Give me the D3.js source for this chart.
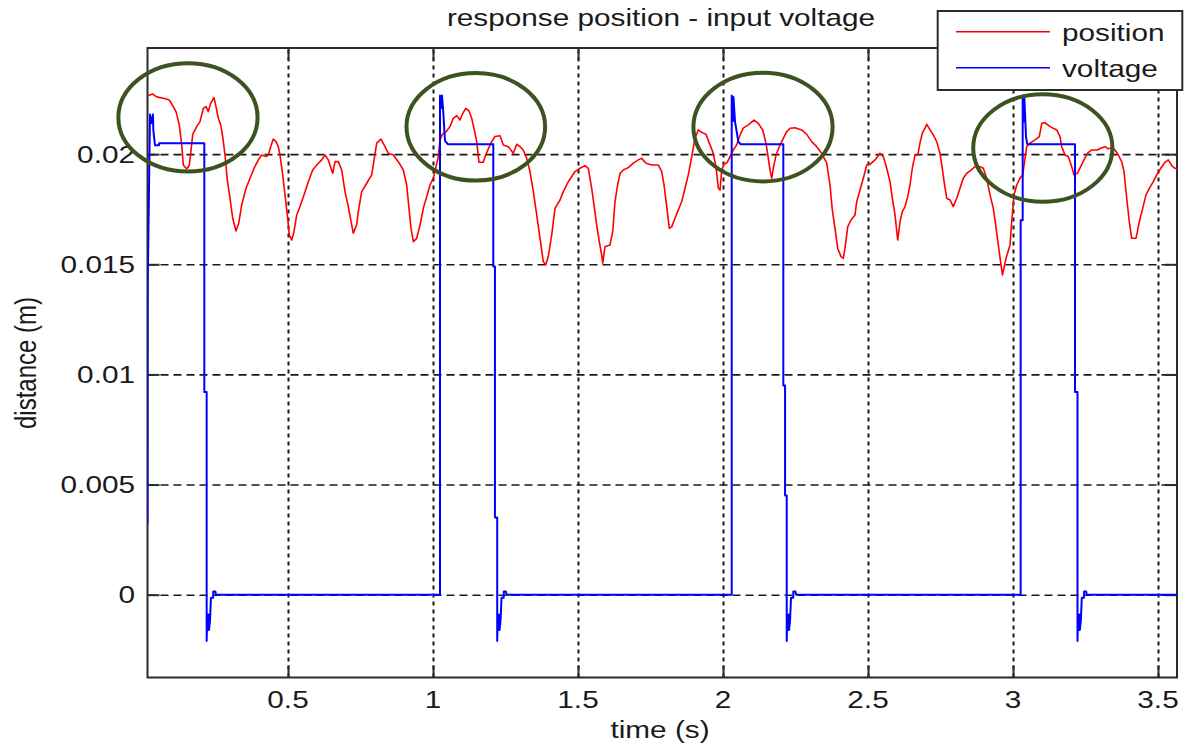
<!DOCTYPE html>
<html>
<head>
<meta charset="utf-8">
<script src="https://cdn.jsdelivr.net/npm/d3@7"></script>
<style>
  html, body { margin: 0; padding: 0; background: #ffffff; }
  svg { display: block; }
  text { font-family: "Liberation Sans", Arial, sans-serif; fill: #1a1a1a; }
</style>
</head>
<body>
<svg id="chart" width="1193" height="748"></svg>
<script>
// ---- data -------------------------------------------------------------
const titleText = "response position - input voltage";
const xLabel = "time (s)";
const yLabel = "distance (m)";

const xTickValues = [0.5, 1, 1.5, 2, 2.5, 3, 3.5];
const xTickLabels = ["0.5", "1", "1.5", "2", "2.5", "3", "3.5"];
const yTickValues = [0, 0.005, 0.01, 0.015, 0.02];
const yTickLabels = ["0", "0.005", "0.01", "0.015", "0.02"];

const xDomain = [0.0155, 3.5655];
const yDomain = [-0.00376, 0.02482];

const seriesNames = ["position", "voltage"];
const seriesColors = ["#ff0000", "#0000ff"];

// measured position (m) over time (s)
const positionTime = [
  0.0183, 0.0334, 0.0472, 0.0700, 0.0907, 0.1045, 0.1138, 0.1252, 0.1334, 0.1390,
  0.1507, 0.1597, 0.1645, 0.1714, 0.1852, 0.1966, 0.2079, 0.2172, 0.2252, 0.2334,
  0.2448, 0.2517, 0.2597, 0.2679, 0.2748, 0.2828, 0.2907, 0.3000, 0.3093, 0.3207,
  0.3300, 0.3403, 0.3552, 0.3690, 0.3828, 0.3976, 0.4093, 0.4241, 0.4321, 0.4403,
  0.4493, 0.4586, 0.4666, 0.4724, 0.4817, 0.4897, 0.4976, 0.5045, 0.5128, 0.5207,
  0.5300, 0.5414, 0.5552, 0.5700, 0.5852, 0.5990, 0.6162, 0.6276, 0.6390, 0.6541,
  0.6621, 0.6734, 0.6852, 0.6966, 0.7079, 0.7197, 0.7252, 0.7369, 0.7424, 0.7541,
  0.7714, 0.7886, 0.7976, 0.8059, 0.8207, 0.8345, 0.8459, 0.8631, 0.8803, 0.8976,
  0.9093, 0.9172, 0.9241, 0.9321, 0.9438, 0.9552, 0.9666, 0.9783, 0.9897, 1.0010,
  1.0093, 1.0183, 1.0241, 1.0321, 1.0472, 1.0586, 1.0700, 1.0817, 1.0931, 1.1010,
  1.1128, 1.1241, 1.1334, 1.1424, 1.1507, 1.1586, 1.1734, 1.1817, 1.1907, 1.2024,
  1.2138, 1.2310, 1.2424, 1.2597, 1.2769, 1.2886, 1.3000, 1.3114, 1.3231, 1.3345,
  1.3459, 1.3576, 1.3690, 1.3803, 1.3886, 1.3976, 1.4093, 1.4207, 1.4379, 1.4493,
  1.4666, 1.4897, 1.5069, 1.5241, 1.5355, 1.5472, 1.5552, 1.5645, 1.5734, 1.5817,
  1.5852, 1.5931, 1.6103, 1.6197, 1.6276, 1.6355, 1.6448, 1.6562, 1.6734, 1.6907,
  1.7079, 1.7197, 1.7345, 1.7541, 1.7769, 1.7886, 1.7966, 1.8059, 1.8148, 1.8231,
  1.8345, 1.8459, 1.8576, 1.8690, 1.8803, 1.8921, 1.9034, 1.9148, 1.9266, 1.9414,
  1.9528, 1.9645, 1.9724, 1.9783, 1.9838, 1.9897, 1.9955, 2.0034, 2.0148, 2.0241,
  2.0355, 2.0472, 2.0586, 2.0700, 2.0872, 2.1069, 2.1217, 2.1369, 2.1483, 2.1562,
  2.1621, 2.1679, 2.1734, 2.1828, 2.1941, 2.2079, 2.2197, 2.2310, 2.2483, 2.2714,
  2.2886, 2.3059, 2.3231, 2.3403, 2.3576, 2.3690, 2.3769, 2.3862, 2.3955, 2.4069,
  2.4148, 2.4207, 2.4300, 2.4414, 2.4552, 2.4610, 2.4724, 2.4838, 2.4955, 2.5069,
  2.5241, 2.5414, 2.5528, 2.5645, 2.5759, 2.5838, 2.5931, 2.6024, 2.6103, 2.6183,
  2.6276, 2.6369, 2.6448, 2.6528, 2.6621, 2.6714, 2.6793, 2.6872, 2.6966, 2.7024,
  2.7103, 2.7252, 2.7369, 2.7483, 2.7562, 2.7631, 2.7714, 2.7828, 2.7941, 2.8059,
  2.8172, 2.8286, 2.8403, 2.8552, 2.8690, 2.8862, 2.8976, 2.9093, 2.9207, 2.9321,
  2.9403, 2.9493, 2.9586, 2.9638, 2.9759, 2.9897, 2.9955, 3.0034, 3.0128, 3.0241,
  3.0334, 3.0414, 3.0472, 3.0586, 3.0759, 3.0907, 3.0990, 3.1103, 3.1276, 3.1507,
  3.1621, 3.1679, 3.1793, 3.1907, 3.2024, 3.2103, 3.2217, 3.2334, 3.2448, 3.2562,
  3.2714, 3.2907, 3.3024, 3.3172, 3.3286, 3.3403, 3.3517, 3.3631, 3.3748, 3.3828,
  3.3921, 3.4010, 3.4093, 3.4241, 3.4355, 3.4472, 3.4586, 3.4700, 3.4838, 3.4955,
  3.5093, 3.5241, 3.5355, 3.5472, 3.5586, 3.5759
];
const positionValue = [
  0.02266, 0.02273, 0.02260, 0.02254, 0.02246, 0.02216, 0.02193, 0.02133, 0.02042, 0.01951,
  0.01933, 0.01950, 0.02004, 0.02090, 0.02125, 0.02148, 0.02208, 0.02216, 0.02193, 0.02231,
  0.02257, 0.02216, 0.02163, 0.02133, 0.02080, 0.01996, 0.01883, 0.01800, 0.01709, 0.01651,
  0.01686, 0.01769, 0.01845, 0.01891, 0.01936, 0.01974, 0.01996, 0.01989, 0.01996, 0.02034,
  0.02069, 0.02057, 0.02034, 0.01996, 0.01906, 0.01815, 0.01724, 0.01633, 0.01610, 0.01648,
  0.01724, 0.01762, 0.01815, 0.01875, 0.01928, 0.01951, 0.01974, 0.01996, 0.01974, 0.01913,
  0.01966, 0.01966, 0.01928, 0.01830, 0.01762, 0.01678, 0.01641, 0.01680, 0.01739, 0.01830,
  0.01868, 0.01906, 0.01981, 0.02050, 0.02068, 0.02034, 0.02004, 0.01996, 0.01966, 0.01928,
  0.01860, 0.01754, 0.01663, 0.01603, 0.01618, 0.01678, 0.01754, 0.01807, 0.01860, 0.01891,
  0.01936, 0.01989, 0.02064, 0.02090, 0.02105, 0.02125, 0.02163, 0.02175, 0.02155, 0.02181,
  0.02208, 0.02196, 0.02163, 0.02110, 0.02057, 0.01963, 0.01963, 0.01996, 0.02024, 0.02057,
  0.02080, 0.02084, 0.02042, 0.02034, 0.02004, 0.02045, 0.02034, 0.02019, 0.01981, 0.01921,
  0.01830, 0.01724, 0.01618, 0.01512, 0.01497, 0.01535, 0.01633, 0.01754, 0.01792, 0.01830,
  0.01875, 0.01921, 0.01936, 0.01948, 0.01936, 0.01845, 0.01769, 0.01678, 0.01603, 0.01542,
  0.01505, 0.01580, 0.01588, 0.01648, 0.01784, 0.01852, 0.01913, 0.01928, 0.01939, 0.01959,
  0.01974, 0.01981, 0.01959, 0.01951, 0.01951, 0.01921, 0.01860, 0.01762, 0.01663, 0.01670,
  0.01709, 0.01747, 0.01784, 0.01845, 0.01906, 0.01989, 0.02072, 0.02110, 0.02099, 0.02090,
  0.02050, 0.02011, 0.01966, 0.01913, 0.01845, 0.01837, 0.01928, 0.01954, 0.01963, 0.01989,
  0.02019, 0.02042, 0.02087, 0.02118, 0.02133, 0.02155, 0.02140, 0.02110, 0.02050, 0.01981,
  0.01928, 0.01891, 0.01936, 0.01996, 0.02034, 0.02072, 0.02102, 0.02118, 0.02120, 0.02110,
  0.02090, 0.02057, 0.02034, 0.02004, 0.01959, 0.01860, 0.01747, 0.01663, 0.01573, 0.01535,
  0.01527, 0.01573, 0.01670, 0.01701, 0.01724, 0.01784, 0.01837, 0.01891, 0.01951, 0.01954,
  0.01974, 0.02004, 0.01989, 0.01936, 0.01875, 0.01800, 0.01724, 0.01610, 0.01693, 0.01739,
  0.01762, 0.01807, 0.01860, 0.01936, 0.01996, 0.01996, 0.02050, 0.02095, 0.02118, 0.02136,
  0.02118, 0.02087, 0.02057, 0.02004, 0.01936, 0.01868, 0.01800, 0.01792, 0.01762, 0.01800,
  0.01845, 0.01891, 0.01913, 0.01928, 0.01943, 0.01943, 0.01936, 0.01891, 0.01815, 0.01754,
  0.01678, 0.01588, 0.01497, 0.01452, 0.01527, 0.01588, 0.01693, 0.01815, 0.01860, 0.01891,
  0.01906, 0.01981, 0.02034, 0.02050, 0.02065, 0.02080, 0.02140, 0.02143, 0.02125, 0.02110,
  0.02080, 0.02034, 0.01996, 0.01989, 0.01943, 0.01906, 0.01913, 0.01943, 0.01974, 0.02004,
  0.02019, 0.02019, 0.02027, 0.02034, 0.02024, 0.02030, 0.02019, 0.01996, 0.01966, 0.01921,
  0.01800, 0.01693, 0.01618, 0.01618, 0.01693, 0.01754, 0.01815, 0.01845, 0.01875, 0.01906,
  0.01936, 0.01963, 0.01974, 0.01948, 0.01936, 0.01928
];

// applied input voltage trace (scaled to the same axis)
const voltageTime = [
  0.0155, 0.0160, 0.0165, 0.0241, 0.0300, 0.0345, 0.0355, 0.0414, 0.0552, 0.0553,
  0.2114, 0.2114, 0.2195, 0.2195, 0.2215, 0.2235, 0.2255, 0.2275, 0.2309, 0.2343,
  0.2420, 0.2423, 0.2495, 0.2515,
  1.0241, 1.0241, 1.0280, 1.0310, 1.0345, 1.0414, 1.0517,
  1.2079, 1.2079, 1.2136, 1.2136, 1.2214, 1.2214, 1.2234, 1.2254, 1.2274, 1.2294,
  1.2328, 1.2362, 1.2439, 1.2442, 1.2514, 1.2534,
  2.0300, 2.0300, 2.0340, 2.0360, 2.0414, 2.0528, 2.0610,
  2.2080, 2.2080, 2.2140, 2.2140, 2.2197, 2.2197, 2.2217, 2.2237, 2.2257, 2.2277,
  2.2311, 2.2345, 2.2422, 2.2425, 2.2497, 2.2517,
  3.0264, 3.0264, 3.0334, 3.0334, 3.0370, 3.0390, 3.0448, 3.0493,
  3.2138, 3.2138, 3.2224, 3.2224, 3.2244, 3.2264, 3.2284, 3.2304,
  3.2338, 3.2372, 3.2449, 3.2452, 3.2524, 3.2544, 3.5655
];
const voltageValue = [
  0.0032, 0.0125, 0.0143, 0.0218, 0.0214, 0.0218, 0.0211, 0.0204, 0.0204, 0.0205,
  0.0205, 0.0092, 0.0092, -0.0021, -0.0009, -0.0016, -0.0009, -0.0016, -0.0012, -0.00014,
  -0.00014, 0.00015, 0.00015, 0,
  0, 0.02266, 0.0221, 0.02266, 0.0221, 0.0206, 0.02045,
  0.02045, 0.0149, 0.0149, 0.0035, 0.0035, -0.0021, -0.0009, -0.0016, -0.0009, -0.0016,
  -0.0012, -0.00014, -0.00014, 0.00015, 0.00015, 0,
  0, 0.02266, 0.0215, 0.0226, 0.02148, 0.02057, 0.02045,
  0.02045, 0.0095, 0.0095, 0.0045, 0.0045, -0.0021, -0.0009, -0.0016, -0.0009, -0.0016,
  -0.0012, -0.00014, -0.00014, 0.00015, 0.00015, 0,
  0, 0.0170, 0.0170, 0.02266, 0.0215, 0.0226, 0.0208, 0.02045,
  0.02045, 0.0092, 0.0092, -0.0021, -0.0009, -0.0016, -0.0009, -0.0016,
  -0.0012, -0.00014, -0.00014, 0.00015, 0.00015, 0, 0
];

// highlighted regions: centre time, centre value, half-width (s), half-height (m)
const highlightT = [0.155, 1.1476, 2.1379, 3.1028];
const highlightV = [0.02167, 0.02124, 0.02123, 0.02028];
const highlightRT = [0.240, 0.239, 0.240, 0.240];
const highlightRV = [0.00246, 0.00244, 0.00247, 0.00244];

// ---- layout -------------------------------------------------------------
const W = 1193, H = 748;
const plot = { left: 147.5, right: 1177, top: 48, bottom: 677.5 };
const FS = 24;          // font size
const SX = 1.24;        // horizontal glyph stretch of the figure
const frameColor = "#2b2b2b";
const circleColor = "#3c5320";

const svg = d3.select("#chart");
svg.append("rect").attr("width", W).attr("height", H).attr("fill", "#ffffff");

const x = d3.scaleLinear().domain(xDomain).range([plot.left, plot.right]);
const y = d3.scaleLinear().domain(yDomain).range([plot.bottom, plot.top]);
const pw = plot.right - plot.left, ph = plot.bottom - plot.top;

function stretchedText(parent, px, py, str, anchor) {
  return parent.append("text")
    .attr("transform", `translate(${px},${py}) scale(${SX},1)`)
    .attr("text-anchor", anchor)
    .attr("font-size", FS)
    .text(str);
}

// plot background
svg.append("rect").attr("x", plot.left).attr("y", plot.top)
  .attr("width", pw).attr("height", ph).attr("fill", "#ffffff");

// grid
const gridX = svg.append("g").attr("transform", `translate(0,${plot.bottom})`)
  .call(d3.axisBottom(x).tickValues(xTickValues).tickSize(-ph).tickFormat(""));
gridX.select(".domain").remove();
gridX.selectAll("line").attr("stroke", "#1a1a1a").attr("stroke-width", 2)
  .attr("stroke-dasharray", "4,4");

const gridY = svg.append("g").attr("transform", `translate(${plot.left},0)`)
  .call(d3.axisLeft(y).tickValues(yTickValues).tickSize(-pw).tickFormat(""));
gridY.select(".domain").remove();
gridY.selectAll("line").attr("stroke", "#1a1a1a").attr("stroke-width", 1.6)
  .attr("stroke-dasharray", "8,5");

// inward tick marks on all four sides
const TK = 12;
const tickStyle = g => {
  g.select(".domain").remove();
  g.selectAll("line").attr("stroke", frameColor).attr("stroke-width", 2);
};
svg.append("g").attr("transform", `translate(0,${plot.bottom})`)
  .call(d3.axisBottom(x).tickValues(xTickValues).tickSize(-TK).tickFormat("")).call(tickStyle);
svg.append("g").attr("transform", `translate(0,${plot.top})`)
  .call(d3.axisTop(x).tickValues(xTickValues).tickSize(-TK).tickFormat("")).call(tickStyle);
svg.append("g").attr("transform", `translate(${plot.left},0)`)
  .call(d3.axisLeft(y).tickValues(yTickValues).tickSize(-TK).tickFormat("")).call(tickStyle);
svg.append("g").attr("transform", `translate(${plot.right},0)`)
  .call(d3.axisRight(y).tickValues(yTickValues).tickSize(-TK).tickFormat("")).call(tickStyle);

// frame
svg.append("rect").attr("x", plot.left).attr("y", plot.top)
  .attr("width", pw).attr("height", ph)
  .attr("fill", "none").attr("stroke", frameColor).attr("stroke-width", 2);

// tick labels
const xLab = svg.append("g");
xTickValues.forEach((v, i) => stretchedText(xLab, x(v), 708, xTickLabels[i], "middle"));
const yLab = svg.append("g");
yTickValues.forEach((v, i) => stretchedText(yLab, 135, y(v) + 8.5, yTickLabels[i], "end"));

// axis titles and chart title
stretchedText(svg, 660, 738, xLabel, "middle");
svg.append("text")
  .attr("transform", `translate(36,363) rotate(-90) scale(1,${SX})`)
  .attr("text-anchor", "middle").attr("font-size", FS).text(yLabel);
stretchedText(svg, 661, 26, titleText, "middle");

// data lines
svg.append("clipPath").attr("id", "plotClip").append("rect")
  .attr("x", plot.left).attr("y", plot.top).attr("width", pw).attr("height", ph);

const line = d3.line().x(d => x(d[0])).y(d => y(d[1]));
const positionData = positionTime.map((t, i) => [t, positionValue[i]]);
const voltageData = voltageTime.map((t, i) => [t, voltageValue[i]]);

const lines = svg.append("g").attr("clip-path", "url(#plotClip)");
lines.append("path").datum(positionData).attr("d", line)
  .attr("fill", "none").attr("stroke", seriesColors[0]).attr("stroke-width", 1.6)
  .attr("stroke-linejoin", "round");
lines.append("path").datum(voltageData).attr("d", line)
  .attr("fill", "none").attr("stroke", seriesColors[1]).attr("stroke-width", 2)
  .attr("stroke-linejoin", "round");

// highlight ellipses
svg.append("g").selectAll("ellipse")
  .data(highlightT.map((t, i) => ({ t, v: highlightV[i], rt: highlightRT[i], rv: highlightRV[i] })))
  .join("ellipse")
  .attr("cx", d => x(d.t)).attr("cy", d => y(d.v))
  .attr("rx", d => x(d.t + d.rt) - x(d.t)).attr("ry", d => y(d.v - d.rv) - y(d.v))
  .attr("fill", "none").attr("stroke", circleColor).attr("stroke-width", 4);

// legend
const lg = svg.append("g");
lg.append("rect").attr("x", 937.7).attr("y", 11).attr("width", 244.6).attr("height", 79)
  .attr("fill", "#ffffff").attr("stroke", frameColor).attr("stroke-width", 2);
const legendRows = [31.7, 67.7];
seriesNames.forEach((name, i) => {
  lg.append("line").attr("x1", 956).attr("x2", 1050)
    .attr("y1", legendRows[i]).attr("y2", legendRows[i])
    .attr("stroke", seriesColors[i]).attr("stroke-width", 1.6);
  stretchedText(lg, 1062, legendRows[i] + 9, name, "start");
});
</script>
</body>
</html>
